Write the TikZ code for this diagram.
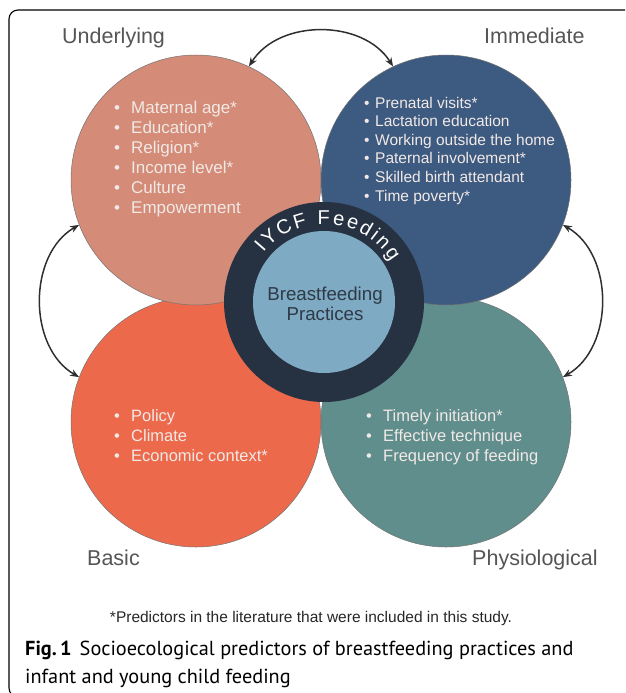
\documentclass[tikz,border=0pt]{standalone}
\usepackage{fontspec}
\setmainfont{Liberation Sans}
\newfontfamily\capfont{PT Sans}
\usetikzlibrary{arrows.meta,decorations.text}
\definecolor{salmon}{HTML}{D48B77}
\definecolor{navy}{HTML}{3D5A80}
\definecolor{coral}{HTML}{EC6A4B}
\definecolor{teal}{HTML}{5F8E8D}
\definecolor{ringdark}{HTML}{263142}
\definecolor{innerblue}{HTML}{7FAAC4}
\definecolor{labelgray}{HTML}{555555}
\definecolor{centertext}{HTML}{2E3A46}
\definecolor{listtext}{HTML}{F1E9E6}
\definecolor{arrowgray}{HTML}{2F2F2F}
\tikzset{
  bigcirc/.style={circle, minimum size=250pt, inner sep=0pt, draw=black!55, line width=0.5pt},
  header/.style={anchor=base west, inner sep=0pt, text=labelgray, font=\fontsize{21.5}{24}\selectfont},
  item/.style={anchor=base west, inner sep=0pt, text=listtext},
  link/.style={draw=arrowgray, line width=1.5pt, {Stealth[length=9pt,width=7pt]}-{Stealth[length=9pt,width=7pt]}},
}
\begin{document}
\begin{tikzpicture}[x=1pt,y=1pt]
\useasboundingbox (0,0) rectangle (625,-693);
\begin{scope}
\clip (0,0) rectangle (625,-693);
\draw[line width=1.1pt, rounded corners=9pt] (9,-10) rectangle (700,-697);
\end{scope}

% circles
\node[bigcirc, fill=coral] (basic) at (196,-422) {};
\node[bigcirc, fill=teal] (phys) at (446,-422) {};
\node[bigcirc, fill=salmon] (under) at (196,-180) {};
\node[bigcirc, fill=navy] (immed) at (446,-180) {};

% centre ring
\node[circle, minimum size=200pt, inner sep=0pt, fill=ringdark] (ring) at (324,-302) {};
\node[circle, minimum size=142pt, inner sep=0pt, fill=innerblue] (core) at (324,-302) {};
\path[decorate, decoration={text along path, text color=white,
   text={|\fontsize{20}{20}\selectfont|IYCF Feeding}, text align=fit to path}]
   ([shift={(141:78)}]ring.center) arc[start angle=141, end angle=31, radius=78];
\node[anchor=base, inner sep=0pt, text=centertext, font=\fontsize{18.7}{20}\selectfont] (c1) at (325,-300) {Breastfeeding};
\node[anchor=base, inner sep=0pt, text=centertext, font=\fontsize{18.7}{20}\selectfont] (c2) at (325,-320) {Practices};

% headers
\node[header] (hu) at (62,-44) {Underlying};
\node[header] (hi) at (484,-44) {Immediate};
\node[header] (hb) at (87,-565) {Basic};
\node[header] (hp) at (472,-565) {Physiological};

% lists
\foreach \t [count=\i from 0] in {Maternal age*,Education*,Religion*,Income level*,Culture,Empowerment}
  \node[item, font=\fontsize{17}{20}\selectfont] (u\i) at (114,-113-20*\i) {\makebox[17pt][l]{\textbullet}\t};
\foreach \t [count=\i from 0] in {Prenatal visits*,Lactation education,Working outside the home,Paternal involvement*,Skilled birth attendant,Time poverty*}
  \node[item, font=\fontsize{15.5}{18}\selectfont] (m\i) at (364,-108-18.6*\i) {\makebox[11pt][l]{\textbullet}\t};
\foreach \t [count=\i from 0] in {Policy,Climate,Economic context*}
  \node[item, font=\fontsize{16.5}{19}\selectfont] (b\i) at (114,-421-20*\i) {\makebox[17pt][l]{\textbullet}\t};
\foreach \t [count=\i from 0] in {Timely initiation*,Effective technique,Frequency of feeding}
  \node[item, font=\fontsize{16.5}{19}\selectfont] (p\i) at (366,-421-20*\i) {\makebox[17pt][l]{\textbullet}\t};

% arrows
\draw[link] (under.65) to[bend left=58] (immed.115);
\draw[link] (under.201) to[bend right=60] (basic.159);
\draw[link] (immed.339) to[bend left=60] (phys.21);

% footnote and caption
\node[anchor=base, inner sep=0pt, font=\fontsize{15.5}{17}\selectfont, text=black!85] (foot) at (311,-622) {*Predictors in the literature that were included in this study.};
\node[anchor=base west, inner sep=0pt, font=\capfont\fontsize{20.3}{24}\selectfont] (cap1) at (25,-655) {\textbf{Fig.\,1}\hspace{8pt}Socioecological predictors of breastfeeding practices and};
\node[anchor=base west, inner sep=0pt, font=\capfont\fontsize{20.3}{24}\selectfont] (cap2) at (25,-683) {infant and young child feeding};
\end{tikzpicture}
\end{document}
